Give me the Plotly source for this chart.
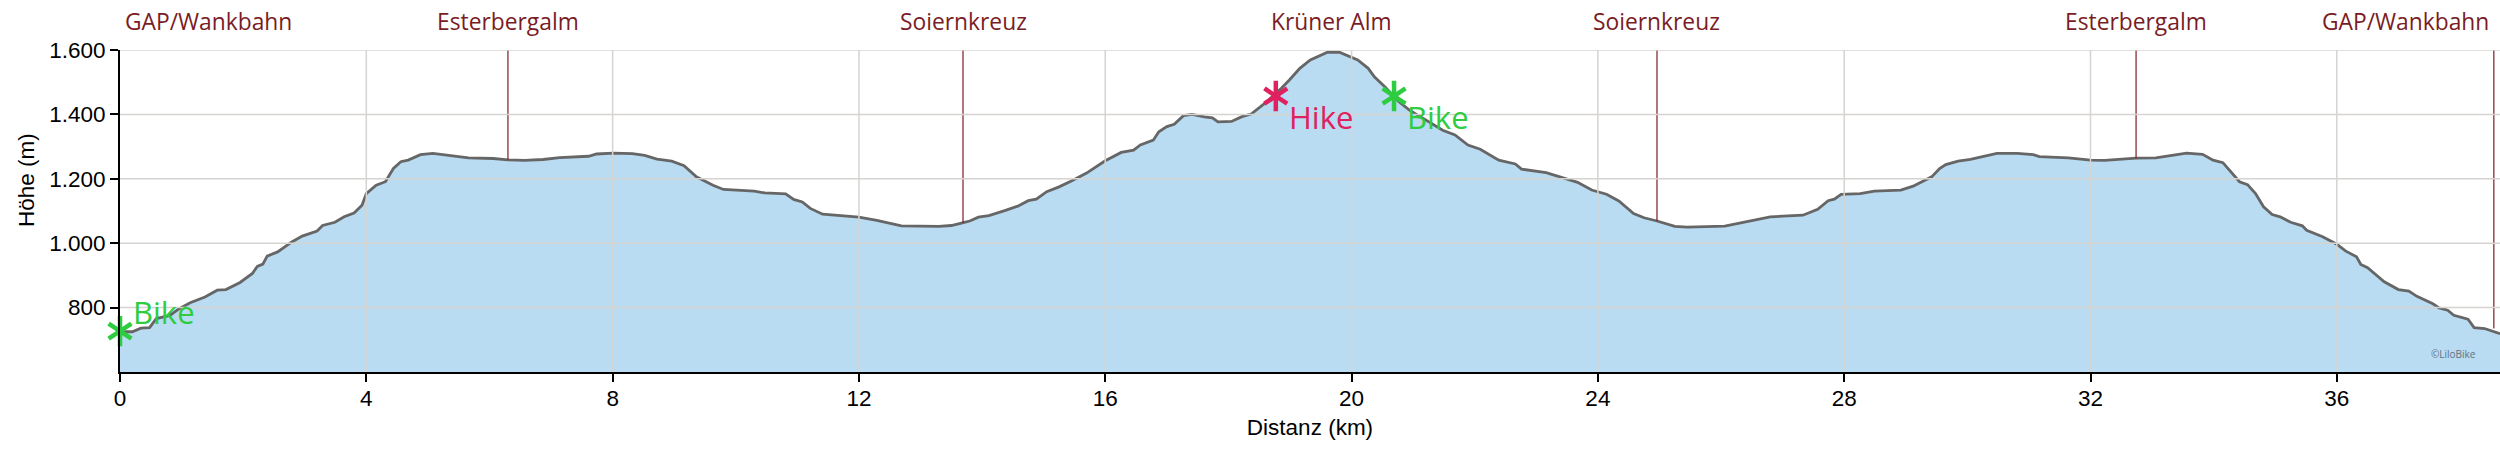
import plotly.graph_objects as go

# profile
dist_km = [0, 0.2, 0.34, 0.48, 0.59, 0.81, 0.94, 1.14, 1.38, 1.58, 1.72, 1.95, 2.15, 2.23, 2.32, 2.39, 2.56, 2.79,
           2.96, 3.2, 3.29, 3.49, 3.64, 3.8, 3.93, 4.0, 4.16, 4.31, 4.44, 4.56, 4.68, 4.88, 5.08, 5.32, 5.66, 6.06,
           6.3, 6.57, 6.87, 7.14, 7.61, 7.74, 8.01, 8.32, 8.52, 8.72, 8.96, 9.16, 9.36, 9.63, 9.8, 10.3, 10.47,
           10.81, 10.94, 11.08, 11.21, 11.41, 11.82, 12.0, 12.29, 12.69, 13.3, 13.5, 13.68, 13.8, 13.94, 14.11,
           14.38, 14.58, 14.75, 14.88, 15.05, 15.25, 15.45, 15.69, 16.0, 16.26, 16.46, 16.57, 16.78, 16.87, 17.0,
           17.12, 17.27, 17.41, 17.61, 17.74, 17.83, 18.05, 18.22, 18.37, 18.62, 18.86, 18.99, 19.16, 19.33, 19.61,
           19.8, 20.1, 20.27, 20.37, 20.54, 20.77, 20.94, 21.21, 21.48, 21.68, 21.89, 22.09, 22.39, 22.66, 22.76,
           23.16, 23.43, 23.67, 23.9, 24.14, 24.34, 24.58, 24.75, 24.96, 25.25, 25.45, 26.06, 26.33, 26.8, 27.33,
           27.57, 27.74, 27.84, 27.95, 28.26, 28.49, 28.92, 29.12, 29.42, 29.55, 29.65, 29.85, 30.05, 30.48, 30.81,
           31.07, 31.17, 31.64, 32.0, 32.23, 32.74, 33.06, 33.23, 33.56, 33.82, 33.99, 34.15, 34.28, 34.42, 34.55,
           34.68, 34.81, 34.95, 35.08, 35.25, 35.44, 35.51, 35.77, 36.0, 36.14, 36.32, 36.39, 36.5, 36.77, 37.0,
           37.17, 37.3, 37.56, 37.66, 37.8, 37.9, 38.13, 38.23, 38.4, 38.65]
height_m = [725, 725, 736, 738, 766, 776, 794, 815, 833, 854, 856, 878, 906, 928, 935, 960, 973, 1004,
            1022, 1038, 1055, 1065, 1082, 1094, 1118, 1154, 1180, 1191, 1232, 1253, 1258, 1275, 1279, 1274, 1265, 1263,
            1259, 1257, 1260, 1266, 1270, 1277, 1280, 1278, 1273, 1261, 1255, 1241, 1206, 1180, 1167, 1162, 1156,
            1153, 1136, 1128, 1108, 1090, 1083, 1081, 1071, 1054, 1052, 1055, 1063, 1069, 1081, 1086,
            1102, 1115, 1132, 1137, 1160, 1175, 1193, 1217, 1256, 1282, 1289, 1305, 1320, 1346, 1362,
            1369, 1396, 1400, 1392, 1389, 1377, 1378, 1393, 1401, 1439, 1481, 1507, 1543, 1569, 1593,
            1593, 1569, 1543, 1517, 1486, 1439, 1413, 1382, 1351, 1336, 1305, 1292, 1258, 1246, 1230,
            1219, 1204, 1189, 1165, 1152, 1131, 1092, 1079, 1069, 1052, 1050, 1053, 1063, 1082, 1087,
            1105, 1132, 1137, 1152, 1154, 1162, 1165, 1177, 1206, 1232, 1244, 1255, 1260, 1279, 1279,
            1275, 1269, 1265, 1258, 1257, 1264, 1265, 1270, 1280, 1276, 1258, 1250, 1222, 1191, 1182,
            1154, 1113, 1089, 1082, 1065, 1054, 1040, 1020, 997, 976, 958, 934, 924, 880, 856,
            851, 835, 812, 799, 792, 776, 764, 738, 735, 719]

x_ticks = [0, 4, 8, 12, 16, 20, 24, 28, 32, 36]
y_ticks = [800, 1000, 1200, 1400, 1600]
y_labels = ["800", "1.000", "1.200", "1.400", "1.600"]

place_names = ["GAP/Wankbahn", "Esterbergalm", "Soiernkreuz", "Krüner Alm", "Soiernkreuz", "Esterbergalm", "GAP/Wankbahn"]
place_km = [0, 6.3, 13.69, 19.68, 24.96, 32.74, 38.55]
line_km = [6.3, 13.69, 24.96, 32.74, 38.55]
line_m = [1259, 1063, 1069, 1264, 735]

mark_names = ["Bike", "Hike", "Bike"]
mark_km = [0, 18.77, 20.69]
mark_m = [727, 1457, 1457]
mark_colors = ["#2ecc40", "#e0215f", "#2ecc40"]
mark_yshift = [19, -21, -21]

PLACE_COLOR = "#7a1c24"
GRID = "#d6d4d0"
FONT = "Liberation Sans"

fig = go.Figure()

fig.add_trace(go.Scatter(x=dist_km, y=height_m, mode="lines", fill="tozeroy", fillcolor="#b9dcf2",
                         line=dict(color="#666666", width=2.8), showlegend=False, hoverinfo="skip"))

# grid sits on top of the fill in the original
for t in x_ticks[1:]:
    fig.add_vline(x=t, line_color=GRID, line_width=1.5, layer="above")
for t in y_ticks:
    fig.add_hline(y=t, line_color=GRID, line_width=1.5, layer="above")

for km, m in zip(line_km, line_m):
    fig.add_trace(go.Scatter(x=[km, km], y=[m, 1600], mode="lines", line=dict(color="#7e1c2a", width=1.2),
                             showlegend=False, hoverinfo="skip"))

# six armed star from two Y symbols
for symbol in ["y-up-open", "y-down-open"]:
    fig.add_trace(go.Scatter(x=mark_km, y=mark_m, mode="markers", cliponaxis=False, showlegend=False,
                             hoverinfo="skip",
                             marker=dict(symbol=symbol, size=19, color=mark_colors,
                                         line=dict(color=mark_colors, width=4.5))))

for name, km, m, color, shift in zip(mark_names, mark_km, mark_m, mark_colors, mark_yshift):
    fig.add_annotation(x=km, y=m, text=name, showarrow=False, xanchor="left", yanchor="middle", xshift=11, yshift=shift,
                       font=dict(family="Open Sans", size=31, color=color))

for i, (name, km) in enumerate(zip(place_names, place_km)):
    anchor = "center"
    shift = 0
    if i == 0:
        anchor, shift = "left", 3
    if i == len(place_names) - 1:
        anchor, shift = "right", -3
    fig.add_annotation(x=km, y=1, yref="paper", text=name, showarrow=False, xanchor=anchor, yanchor="middle",
                       xshift=shift, yshift=29, font=dict(family="Open Sans", size=22.8, color=PLACE_COLOR))

fig.add_annotation(xref="paper", yref="paper", x=0.9908, y=0.056, text="©LiloBike", showarrow=False,
                   xanchor="right", yanchor="middle", font=dict(family="Open Sans", size=10, color="#5f7280"))
fig.add_annotation(xref="paper", yref="paper", x=0, y=0.596, text="Höhe (m)", textangle=-90, showarrow=False,
                   xanchor="center", yanchor="middle", xshift=-94, font=dict(family=FONT, size=22.5, color="black"))

fig.update_xaxes(range=[0, 38.65], tickvals=x_ticks, showgrid=False, zeroline=False, showline=True, linecolor="black",
                 linewidth=2, ticks="outside", ticklen=8, tickwidth=2, tickcolor="black", ticklabelstandoff=-3,
                 tickfont=dict(family=FONT, size=22.5, color="black"),
                 title=dict(text="Distanz (km)", standoff=9, font=dict(family=FONT, size=22.5, color="black")))
fig.update_yaxes(range=[600, 1600], tickvals=y_ticks, ticktext=y_labels, showgrid=False, zeroline=False, showline=True,
                 linecolor="black", linewidth=2, ticks="outside", ticklen=8, tickwidth=2, tickcolor="black",
                 tickfont=dict(family=FONT, size=22.5, color="black"))
fig.update_layout(width=2500, height=457, margin=dict(l=120, r=0, t=50, b=85), autosize=False,
                  paper_bgcolor="white", plot_bgcolor="white", showlegend=False)

fig.write_html("out.html", config=dict(displayModeBar=False), post_script="document.body.style.margin='0';")
